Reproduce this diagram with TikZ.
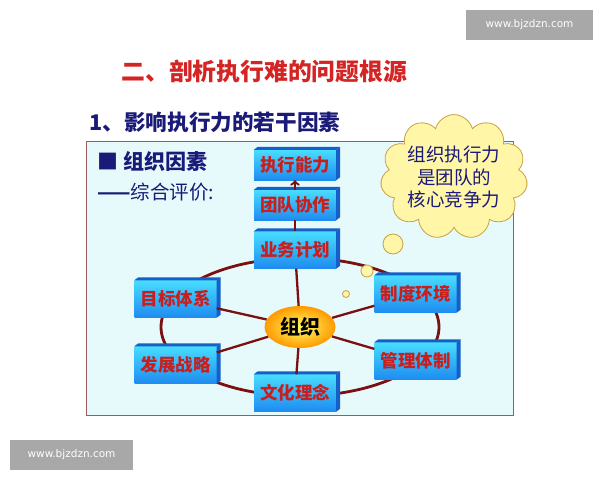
\documentclass[tikz,border=0pt]{standalone}
\usepackage{fontspec}
\setmainfont{Noto Sans CJK SC}
\newfontfamily\webfont{DejaVu Sans}
\usetikzlibrary{shapes.geometric,shapes.symbols}
\definecolor{titlered}{HTML}{D42424}
\definecolor{navy}{HTML}{1A1A78}
\definecolor{panelfill}{HTML}{E6FAFC}
\definecolor{panelline}{HTML}{A05A5A}
\definecolor{ringred}{HTML}{7A1010}
\definecolor{boxtext}{HTML}{C81E1E}
\definecolor{boxhi}{HTML}{48DCFF}
\definecolor{boxlo}{HTML}{1E8CF0}
\definecolor{boxdark}{HTML}{1460C8}
\definecolor{cloudfill}{HTML}{FFF6A8}
\definecolor{cloudline}{HTML}{C8A040}

\begin{document}
\begin{tikzpicture}[x=1pt,y=-1pt,
    factor/.style={rectangle,top color=boxhi,bottom color=boxlo,minimum width=82pt,
        minimum height=37pt,inner sep=0pt,text=boxtext,font=\fontsize{17.5}{20}\selectfont\bfseries},
    boxface/.style={fill=boxdark},
    spoke/.style={draw=ringred,line width=2.3pt},
    wmark/.style={fill=black!34,text=white,inner sep=0pt,minimum height=30pt,
        font=\webfont\fontsize{10.5}{12}\selectfont},
    bubble/.style={fill=cloudfill,draw=cloudline,line width=0.8pt}]

    \useasboundingbox[fill=white] (0,0) rectangle (600,480);

    % headings
    \node[anchor=west,text=titlered,font=\fontsize{23.8}{28}\selectfont\bfseries] (title) at (118,71) {二、剖析执行难的问题根源};
    \node[anchor=west,text=navy,font=\fontsize{21.6}{26}\selectfont\bfseries] (subtitle) at (86,122) {1、影响执行力的若干因素};

    % panel
    \draw[fill=panelfill,draw=panelline,line width=0.8pt] (86,141) rectangle (513,415);
    \node[anchor=west,text=navy,font=\fontsize{21}{24}\selectfont\bfseries] (org) at (94,161) {■ 组织因素};
    \node[anchor=west,text=navy,font=\fontsize{19.5}{22}\selectfont] (eval) at (94,192) {{\bfseries ——}综合评价:};

    % ring
    \draw[ringred,line width=2.8pt] (300,327) ellipse [x radius=139pt,y radius=69pt];

    % boxes
    \node[factor,minimum height=30pt] (exec) at (295,165) {执行能力};
    \node[factor,minimum height=30pt] (team) at (295,205) {团队协作};
    \node[factor] (plan) at (295,250) {业务计划};
    \node[factor] (goal) at (175.5,299) {目标体系};
    \node[factor] (rules) at (415.5,294) {制度环境};
    \node[factor] (strategy) at (175.5,365) {发展战略};
    \node[factor] (manage) at (415.5,361) {管理体制};
    \node[factor] (culture) at (295,393) {文化理念};
    \foreach \n in {exec,team,plan,goal,rules,strategy,manage,culture}{
        \fill[boxface] (\n.north west) -- ++(4,-3) -- ([xshift=4pt,yshift=3pt]\n.north east) -- (\n.north east) -- cycle;
        \fill[boxface] (\n.north east) -- ++(4,-3) -- ([xshift=4pt,yshift=3pt]\n.south east) -- (\n.south east) -- cycle;
    }

    % hub
    \node[ellipse,minimum width=71pt,minimum height=42pt,inner sep=0pt,inner color=yellow!60!white,
        outer color=orange!80!yellow,font=\fontsize{20}{22}\selectfont\bfseries] (hub) at (300,327) {组织};
    \foreach \n in {plan,goal,rules,strategy,manage,culture}
        \draw[spoke] (hub) -- (\n);
    \draw[spoke] (plan) -- (team);
    \draw[spoke,->] (team) -- (exec);

    % thought cloud
    \node[cloud,cloud puffs=11,aspect=1.3,minimum width=140pt,minimum height=108pt,inner sep=0pt,
        fill=cloudfill,draw=cloudline,line width=0.8pt,align=center,text=navy,
        font=\fontsize{18.5}{22.5}\selectfont] (cloud) at (454,177) {组织执行力\\是团队的\\核心竞争力};
    \draw[bubble] (393,244) circle [radius=10pt];
    \draw[bubble] (367,271) circle [radius=6pt];
    \draw[bubble] (346,294) circle [radius=3.5pt];

    % watermarks
    \node[wmark,minimum width=127pt] (wmtop) at (529.5,25) {www.bjzdzn.com};
    \node[wmark,minimum width=123pt] (wmbottom) at (71.5,455) {www.bjzdzn.com};
\end{tikzpicture}
\end{document}
